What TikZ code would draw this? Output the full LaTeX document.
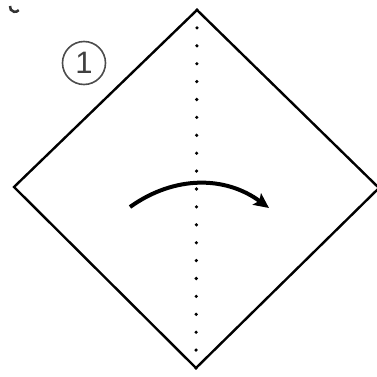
\documentclass[tikz,border=0pt]{standalone}
\usepackage{fontspec}
\newfontfamily\stepfont{Liberation Sans}
\usetikzlibrary{arrows.meta, positioning}

\begin{document}
\begin{tikzpicture}[x=1pt, y=-1pt, line width=2.4pt]

\tikzstyle{sheet} = [draw=black, line join=miter]
\tikzstyle{crease} = [line width=3.6pt, line cap=round, dash pattern=on 0pt off 17.9pt]
\tikzstyle{stepnum} = [circle, draw=black!70, line width=1.6pt, minimum size=43pt, inner sep=0pt, font=\stepfont\fontsize{31}{31}\selectfont, text=black!75]
\tikzstyle{flip} = [-{Stealth[length=15pt, width=14pt, inset=3pt]}, line width=4pt]

\useasboundingbox (0,0) rectangle (376,377);

% corners of the square
\coordinate (top) at (197,10);
\coordinate (right) at (379,188);
\coordinate (bottom) at (196,368);
\coordinate (left) at (14,187);

\draw [sheet] (top) -- (right) -- (bottom) -- (left) -- cycle;
\draw [crease] (top) -- (bottom);

\node (step1) [stepnum] at (84,63) {1};

% fold arrow
\coordinate (from) at (130,207);
\coordinate (to) at (269,208);
\draw [flip] (from) to[bend left=36] (to);

% leftover mark
\draw [line width=2.5pt, black!80] (10,6) arc[start angle=170, end angle=320, radius=5pt];

\end{tikzpicture}
\end{document}
